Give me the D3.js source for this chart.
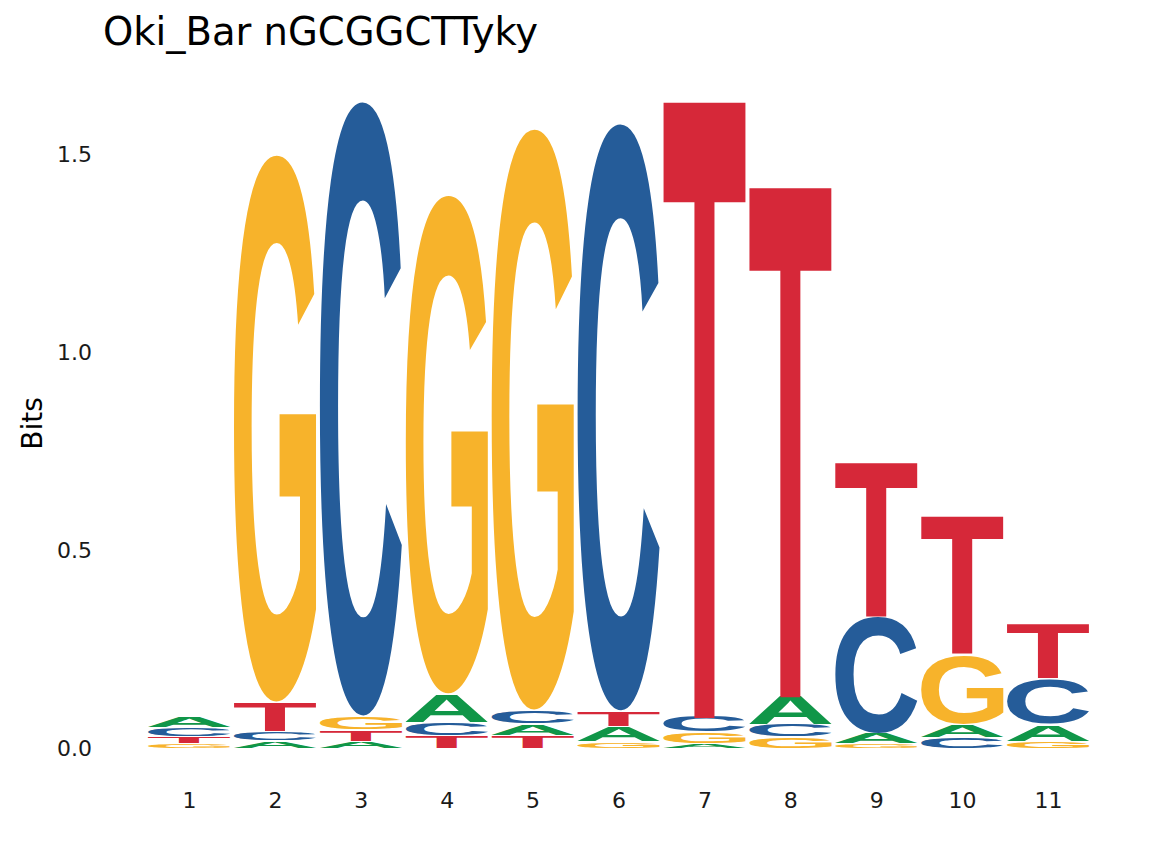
<!DOCTYPE html>
<html>
<head>
<meta charset="utf-8">
<script src="https://d3js.org/d3.v7.min.js"></script>
<style>
  body { margin: 0; background: #fff; }
  svg { display: block; }
</style>
</head>
<body>
<svg id="chart" width="1152" height="865"></svg>
<script>
// positions and information content (bits) per base
var positions = [1, 2, 3, 4, 5, 6, 7, 8, 9, 10, 11];
var bitsA = [0.028, 0.015, 0.015, 0.071, 0.030, 0.038, 0.008, 0.076, 0.028, 0.033, 0.043];
var bitsC = [0.023, 0.025, 1.556, 0.035, 0.035, 1.487, 0.045, 0.033, 0.295, 0.025, 0.116];
var bitsG = [0.008, 1.386, 0.035, 1.263, 1.472, 0.013, 0.030, 0.025, 0.008, 0.177, 0.015];
var bitsT = [0.018, 0.073, 0.028, 0.028, 0.028, 0.040, 1.551, 1.283, 0.389, 0.348, 0.139];
var yTicks = [0, 0.5, 1.0, 1.5];
var title = "Oki_Bar nGCGGCTTyky";

var baseColor = {A: "#109648", C: "#255C99", G: "#F7B32B", T: "#D62839"};

var svg = d3.select("#chart");

var x = d3.scaleLinear().domain([1, 11]).range([189, 1048]);
var y = d3.scaleLinear().domain([0, 1.5]).range([748, 154]);
var step = x(2) - x(1);
var letterW = step * 0.955;

// ink bounds of each glyph: draw it on a canvas and scan the pixels
var glyphFont = "bold 200px 'Liberation Sans', Arial, sans-serif";
var cw = 400, ox = 100, oy = 300;
var canvas = document.createElement("canvas");
canvas.width = cw; canvas.height = cw;
var ctx = canvas.getContext("2d");
var ink = {};
["A", "C", "G", "T"].forEach(function(b) {
  ctx.clearRect(0, 0, cw, cw);
  ctx.font = glyphFont;
  ctx.fillStyle = "#000";
  ctx.fillText(b, ox, oy);
  var px = ctx.getImageData(0, 0, cw, cw).data;
  var minX = cw, maxX = -1, minY = cw, maxY = -1;
  for (var r = 0; r < cw; r++) {
    for (var c = 0; c < cw; c++) {
      if (px[(r * cw + c) * 4 + 3] > 127) {
        if (c < minX) minX = c;
        if (c > maxX) maxX = c;
        if (r < minY) minY = r;
        if (r > maxY) maxY = r;
      }
    }
  }
  ink[b] = {left: ox - minX, right: maxX + 1 - ox, asc: oy - minY, desc: maxY + 1 - oy};
});

// build stacks, smallest letter at the bottom
var stacks = positions.map(function(p, i) {
  var col = [
    {base: "A", h: bitsA[i]},
    {base: "C", h: bitsC[i]},
    {base: "G", h: bitsG[i]},
    {base: "T", h: bitsT[i]}
  ].sort(function(a, b) { return a.h - b.h; });
  var acc = 0;
  col.forEach(function(d, k) {
    d.pos = p;
    d.y0 = acc;
    acc += d.h;
    d.y1 = acc;
    d.first = k === 0;
  });
  return col;
});

var letters = svg.append("g").attr("class", "letters");

letters.selectAll("text")
  .data(stacks.flat())
  .enter()
  .append("text")
  .text(function(d) { return d.base; })
  .attr("fill", function(d) { return baseColor[d.base]; })
  .style("font", glyphFont)
  .attr("transform", function(d) {
    var g = ink[d.base];
    var top = y(d.y1);
    var bottom = y(d.y0);
    var gap = d.first ? 0 : Math.min(1.5, (bottom - top) * 0.2);
    bottom -= gap;
    var x0 = x(d.pos) - letterW / 2;
    var sx = letterW / (g.left + g.right);
    var sy = Math.max(bottom - top, 0.3) / (g.asc + g.desc);
    return "translate(" + (x0 + g.left * sx) + "," + (top + g.asc * sy) + ") scale(" + sx + "," + sy + ")";
  });

// y axis
var yAxis = svg.append("g")
  .attr("transform", "translate(92,0)")
  .call(d3.axisLeft(y).tickValues(yTicks).tickFormat(d3.format(".1f")).tickSize(0).tickPadding(0));
yAxis.select(".domain").remove();
yAxis.selectAll("text")
  .style("font-family", "'DejaVu Sans', sans-serif")
  .style("font-size", "22px")
  .attr("fill", "#1a1a1a");

// x axis
var xAxis = svg.append("g")
  .attr("transform", "translate(0,792)")
  .call(d3.axisBottom(x).tickValues(positions).tickFormat(d3.format("d")).tickSize(0).tickPadding(0));
xAxis.select(".domain").remove();
xAxis.selectAll("text")
  .style("font-family", "'DejaVu Sans', sans-serif")
  .style("font-size", "22px")
  .attr("fill", "#1a1a1a");

// axis title
svg.append("text")
  .attr("transform", "translate(42,423.5) rotate(-90)")
  .attr("text-anchor", "middle")
  .style("font-family", "'DejaVu Sans', sans-serif")
  .style("font-size", "28px")
  .attr("fill", "#000")
  .text("Bits");

// plot title
svg.append("text")
  .attr("x", 103)
  .attr("y", 45)
  .style("font-family", "'DejaVu Sans', sans-serif")
  .style("font-size", "38.5px")
  .attr("fill", "#000")
  .text(title);
</script>
</body>
</html>
